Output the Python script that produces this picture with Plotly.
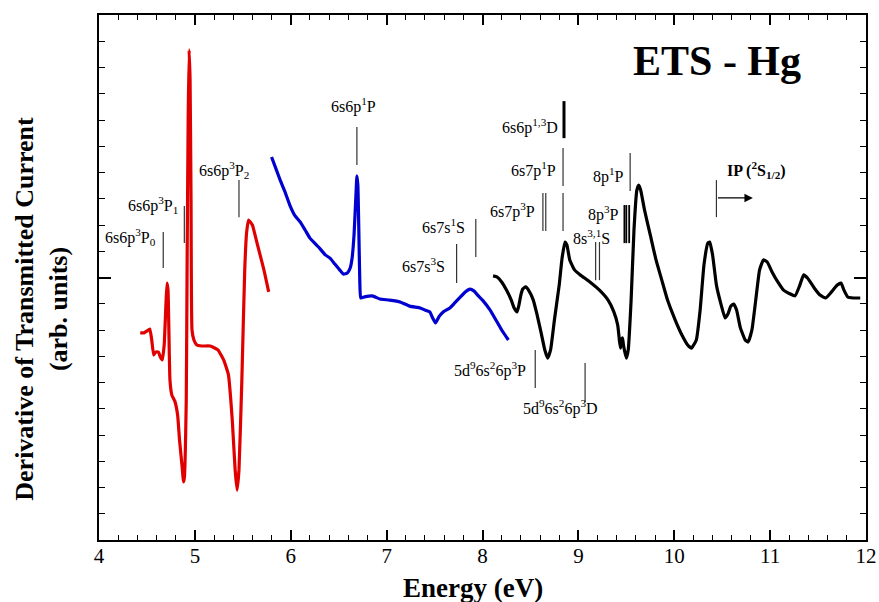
import plotly.graph_objects as go

# ---- data (energy in eV, derivative signal in arb. units) ----
red_x = [4.43, 4.47, 4.50, 4.53, 4.55, 4.57, 4.59, 4.62, 4.64, 4.66, 4.68, 4.70, 4.71, 4.72, 4.74, 4.76,
         4.79, 4.82, 4.84, 4.87, 4.88, 4.89, 4.91, 4.92, 4.93, 4.94, 4.95, 4.96, 4.97, 4.99, 5.02, 5.07,
         5.16, 5.24, 5.30, 5.35, 5.39, 5.42, 5.44, 5.46, 5.49, 5.52, 5.54, 5.56, 5.60, 5.64, 5.68, 5.72, 5.77]
red_y = [-2.11, -2.11, -2.04, -1.96, -2.38, -2.95, -2.84, -2.84, -3.03, -3.14, -2.57, -0.86, -0.21, -0.48,
         -3.90, -4.48, -4.70, -5.24, -6.19, -7.33, -7.79, -7.64, -4.67, 1.05, 6.00, 8.67, 7.52, 2.95, -2.00,
         -2.38, -2.57, -2.61, -2.61, -2.76, -3.14, -3.71, -5.43, -7.33, -8.10, -7.33, -3.90, 0.29, 1.73,
         2.19, 2.00, 1.43, 0.86, 0.29, -0.55]

blue_x = [5.80, 5.85, 5.89, 5.94, 5.99, 6.04, 6.10, 6.15, 6.20, 6.25, 6.30, 6.36, 6.41, 6.46, 6.51, 6.55,
          6.59, 6.62, 6.64, 6.66, 6.68, 6.69, 6.70, 6.71, 6.72, 6.73, 6.77, 6.85, 6.93, 7.03, 7.14, 7.24,
          7.35, 7.40, 7.45, 7.48, 7.51, 7.55, 7.59, 7.66, 7.71, 7.76, 7.82, 7.87, 7.91, 7.95, 8.00, 8.08,
          8.14, 8.20, 8.27]
blue_y = [4.59, 4.10, 3.71, 3.26, 2.76, 2.38, 2.11, 1.81, 1.50, 1.31, 1.12, 0.86, 0.74, 0.51, 0.29, 0.13,
          0.17, 0.36, 0.74, 1.62, 3.14, 3.87, 3.52, 1.81, -0.10, -0.78, -0.74, -0.70, -0.82, -0.86, -0.93,
          -1.09, -1.16, -1.24, -1.31, -1.54, -1.73, -1.47, -1.31, -1.16, -0.97, -0.78, -0.55, -0.44, -0.51,
          -0.67, -0.86, -1.24, -1.62, -2.00, -2.38]

black_x = [8.11, 8.15, 8.20, 8.25, 8.30, 8.33, 8.36, 8.38, 8.40, 8.42, 8.45, 8.48, 8.53, 8.57, 8.61, 8.65,
           8.68, 8.71, 8.75, 8.80, 8.83, 8.86, 8.88, 8.91, 8.96, 9.02, 9.12, 9.22, 9.31, 9.37, 9.41, 9.43,
           9.44, 9.45, 9.46, 9.47, 9.50, 9.52, 9.55, 9.58, 9.61, 9.63, 9.65, 9.69, 9.75, 9.81, 9.87, 9.93,
           10.01, 10.08, 10.14, 10.18, 10.23, 10.27, 10.31, 10.35, 10.37, 10.40, 10.44, 10.49, 10.53, 10.56,
           10.59, 10.62, 10.65, 10.69, 10.74, 10.77, 10.81, 10.85, 10.89, 10.93, 10.97, 11.02, 11.08, 11.14,
           11.21, 11.26, 11.31, 11.35, 11.39, 11.46, 11.52, 11.58, 11.64, 11.70, 11.74, 11.77, 11.81, 11.87,
           11.94]
black_y = [0.06, 0.02, -0.17, -0.48, -0.86, -1.16, -1.31, -1.05, -0.67, -0.44, -0.36, -0.48, -0.86, -1.43,
           -2.08, -2.76, -3.07, -2.76, -1.62, -0.29, 0.74, 1.35, 1.24, 0.67, 0.29, 0.10, -0.17, -0.48, -0.86,
           -1.31, -1.81, -2.46, -2.69, -2.38, -2.30, -2.57, -3.07, -2.76, -0.86, 1.81, 3.33, 3.52, 3.33, 2.57,
           1.62, 0.67, -0.10, -0.86, -1.62, -2.19, -2.57, -2.69, -2.38, -1.24, 0.48, 1.31, 1.35, 0.86, -0.29,
           -1.05, -1.54, -1.39, -1.09, -1.01, -1.24, -1.92, -2.38, -2.46, -2.00, -0.86, 0.29, 0.67, 0.59, 0.21,
           -0.17, -0.48, -0.63, -0.70, -0.29, 0.10, -0.02, -0.40, -0.67, -0.78, -0.55, -0.29, -0.21, -0.48,
           -0.74, -0.78, -0.78]

# state markers: energy, bottom, top, width
mark_x = [4.67, 4.89, 5.46, 6.69, 7.93, 7.73, 8.85, 8.84, 8.63, 8.66, 8.84, 9.54, 9.48, 9.50, 9.53,
          9.18, 9.22, 8.55, 9.07, 10.44]
mark_y0 = [0.36, 1.31, 2.30, 4.29, 0.78, -0.21, 5.31, 3.49, 1.77, 1.77, 1.77, 3.30, 1.31, 1.31, 1.31,
           -0.10, -0.10, -4.21, -4.74, 2.30]
mark_y1 = [1.73, 2.72, 3.71, 5.73, 2.23, 1.28, 6.72, 4.93, 3.22, 3.22, 3.22, 4.74, 2.76, 2.76, 2.76,
           1.35, 1.35, -2.76, -3.26, 3.71]
mark_w = [1.2, 1.2, 1.2, 1.2, 1.2, 1.2, 3, 1.2, 1.2, 1.2, 1.2, 1.2, 1.8, 1.8, 1.8, 1.2, 1.2, 1.2, 1.2, 1.2]

label_text = ["6s6p<sup>3</sup>P<sub>0</sub>", "6s6p<sup>3</sup>P<sub>1</sub>", "6s6p<sup>3</sup>P<sub>2</sub>",
              "6s6p<sup>1</sup>P", "6s7s<sup>1</sup>S", "6s7s<sup>3</sup>S", "6s6p<sup>1,3</sup>D",
              "6s7p<sup>1</sup>P", "6s7p<sup>3</sup>P", "8p<sup>1</sup>P", "8p<sup>3</sup>P",
              "8s<sup>3,1</sup>S", "5d<sup>9</sup>6s<sup>2</sup>6p<sup>3</sup>P",
              "5d<sup>9</sup>6s<sup>2</sup>6p<sup>3</sup>D"]
label_x = [4.615, 4.845, 5.02, 6.65, 7.84, 7.63, 8.81, 8.79, 8.57, 9.50, 9.44, 9.14, 8.47, 8.81]
label_y = [1.54, 2.76, 4.10, 6.57, 1.96, 0.48, 5.77, 4.10, 2.57, 3.90, 2.42, 1.54, -3.52, -4.97]
label_anchor = ["right", "right", "left", "center", "right", "right", "right", "right", "right",
                "right", "right", "center", "right", "center"]

x_ticks = [4, 5, 6, 7, 8, 9, 10, 11, 12]

serif = "Liberation Serif"

fig = go.Figure()
fig.add_trace(go.Scatter(x=red_x, y=red_y, mode="lines", line=dict(color="#e00000", width=3.2, shape="spline", smoothing=0.4)))
fig.add_trace(go.Scatter(x=blue_x, y=blue_y, mode="lines", line=dict(color="#0000d0", width=3.2, shape="spline", smoothing=0.4)))
fig.add_trace(go.Scatter(x=black_x, y=black_y, mode="lines", line=dict(color="black", width=3.2, shape="spline", smoothing=0.4)))

for xm, a, b, w in zip(mark_x, mark_y0, mark_y1, mark_w):
    fig.add_shape(type="line", x0=xm, x1=xm, y0=a, y1=b, xref="x", yref="y",
                  line=dict(color="#333333" if w < 1.5 else "black", width=w))

for t, lx, ly, anc in zip(label_text, label_x, label_y, label_anchor):
    fig.add_annotation(x=lx, y=ly, text=t, showarrow=False, xanchor=anc, yanchor="middle",
                       font=dict(family=serif, size=16, color="black"))

# ionisation potential arrow + label
fig.add_annotation(x=10.82, y=3.03, ax=10.44, ay=3.03, xref="x", yref="y", axref="x", ayref="y",
                   text="", showarrow=True, arrowhead=2, arrowsize=1.3, arrowwidth=1.3, arrowcolor="black")
fig.add_annotation(x=10.53, y=4.10, text="<b>IP (<sup>2</sup>S<sub>1/2</sub>)</b>", showarrow=False,
                   xanchor="left", yanchor="middle", font=dict(family=serif, size=16, color="black"))

# title inside plot
fig.add_annotation(x=10.45, y=8.25, text="<b>ETS - Hg</b>", showarrow=False, xanchor="center",
                   yanchor="middle", font=dict(family=serif, size=42, color="black"))

# axis titles
fig.add_annotation(xref="paper", yref="paper", x=-0.076, y=0.44, text="<b>Derivative of Transmitted Current<br>(arb. units)</b>",
                   textangle=-90, showarrow=False, xanchor="center", yanchor="middle",
                   font=dict(family=serif, size=26, color="black"))
fig.add_annotation(xref="paper", yref="paper", x=0.488, y=-0.092, text="<b>Energy (eV)</b>",
                   showarrow=False, xanchor="center", yanchor="middle",
                   font=dict(family=serif, size=27, color="black"))

fig.update_xaxes(range=[4, 12], tickvals=x_ticks, ticktext=[str(v) for v in x_ticks], automargin=False,
                 ticks="inside", ticklen=10, tickwidth=1.5, tickcolor="black", ticklabelstandoff=-4,
                 minor=dict(dtick=0.2, ticks="inside", ticklen=5, tickwidth=1.2, tickcolor="black"),
                 showline=True, linecolor="black", linewidth=2, mirror="allticks",
                 showgrid=False, zeroline=False,
                 tickfont=dict(family=serif, size=21, color="black"))
fig.update_yaxes(range=[-10, 10], tickvals=[-10, 0, 10], showticklabels=False, automargin=False,
                 ticks="inside", ticklen=12, tickwidth=1.5, tickcolor="black",
                 minor=dict(dtick=1, ticks="inside", ticklen=6, tickwidth=1.2, tickcolor="black"),
                 showline=True, linecolor="black", linewidth=2, mirror="allticks",
                 showgrid=False, zeroline=False)

fig.update_layout(width=879, height=602, showlegend=False, plot_bgcolor="white", paper_bgcolor="white",
                  margin=dict(l=99, r=13, t=15, b=62, autoexpand=False))

# remove the default 8px page margin so the figure fills the window exactly
fig.write_html("out.html", config={"displayModeBar": False},
               post_script="document.body.style.margin='0px';document.body.style.overflow='hidden';")
